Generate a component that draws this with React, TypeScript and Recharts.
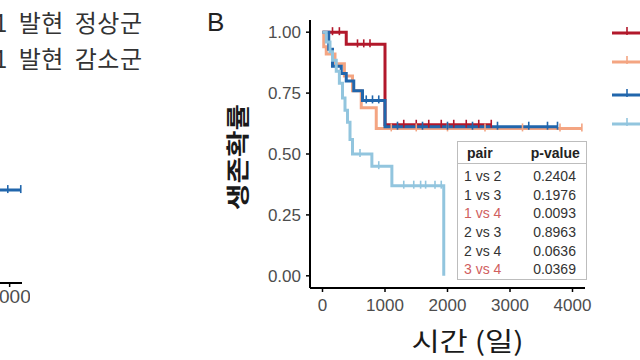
import React from 'react';
import { LineChart, Line, XAxis, YAxis, Legend, Label } from 'recharts';

// Kaplan-Meier steps per group: event times (days), survival after the event, censor times
const g1Time = [0, 380, 1000];
const g1Surv = [1, 0.95, 0.62];
const g1Censor = [160, 270, 560, 660, 760, 1300, 1500, 1700, 1900, 2100, 2300, 2500, 2700];

const g2Time = [0, 20, 60, 200, 350, 480, 620, 860];
const g2Surv = [1, 0.94, 0.91, 0.87, 0.82, 0.76, 0.69, 0.605];
const g2Censor = [1100, 1500, 2000, 2600, 3200, 3800, 4150];

const g3Time = [0, 100, 160, 300, 380, 500, 640, 1000];
const g3Surv = [1, 0.93, 0.86, 0.83, 0.8, 0.76, 0.72, 0.612];
const g3Censor = [700, 800, 900, 1200, 1600, 2000, 2400, 2800, 3300, 3600, 3760];

const g4Time = [0, 60, 120, 160, 220, 270, 320, 360, 400, 440, 480, 790, 1110, 1940];
const g4Surv = [1, 0.96, 0.92, 0.885, 0.84, 0.79, 0.73, 0.68, 0.63, 0.56, 0.5, 0.45, 0.37, 0];
const g4Censor = [600, 900, 1300, 1460, 1570, 1650, 1800, 1900];

// panel A (only its right edge is in frame)
const aTime = [0, 1500, 2600];
const aSurv = [1, 0.6, 0.33];
const aCensor = [3970, 4180];
const aLegend = ['1 발현 정상군', '1 발현 감소군'];

const groupColors = ['#b2182b', '#f4a582', '#2166ac', '#92c5de'];
const xTicks = [0, 1000, 2000, 3000, 4000];
const yTicks = [0, 0.25, 0.5, 0.75, 1];

const pairs = ['1 vs 2', '1 vs 3', '1 vs 4', '2 vs 3', '2 vs 4', '3 vs 4'];
const pValues = ['0.2404', '0.1976', '0.0093', '0.8963', '0.0636', '0.0369'];

type Pt = { time: number; surv: number; censor: boolean };

function km(times: number[], surv: number[], censor: number[]): Pt[] {
  const pts: Pt[] = times.map((t, i) => ({ time: t, surv: surv[i], censor: false }));
  censor.forEach((c) => {
    let s = surv[0];
    times.forEach((t, i) => {
      if (t <= c) s = surv[i];
    });
    pts.push({ time: c, surv: s, censor: true });
  });
  return pts.sort((a, b) => a.time - b.time);
}

const series = [
  km(g1Time, g1Surv, g1Censor),
  km(g2Time, g2Surv, g2Censor),
  km(g3Time, g3Surv, g3Censor),
  km(g4Time, g4Surv, g4Censor),
];
const seriesA = km(aTime, aSurv, aCensor);

const censorDot = (color: string) => (p: any) => {
  if (!p.payload || !p.payload.censor) return <g key={p.key} />;
  return <line key={p.key} x1={p.cx} x2={p.cx} y1={p.cy - 5} y2={p.cy + 3} stroke={color} strokeWidth={1.6} />;
};

const tickStyle = { fontSize: 17, fill: '#4d4d4d', fontFamily: 'Liberation Sans, Arial, sans-serif' };
const axisLine = { stroke: '#000', strokeWidth: 2 };

function KmLegend() {
  return (
    <svg width={40} height={110}>
      {groupColors.map((c, i) => {
        const y = [8, 37, 70, 99][i];
        return (
          <g key={c}>
            <line x1={0} x2={40} y1={y} y2={y} stroke={c} strokeWidth={3} />
            <line x1={15} x2={15} y1={y - 6} y2={y + 2} stroke={c} strokeWidth={1.6} />
          </g>
        );
      })}
    </svg>
  );
}

export default function App() {
  return (
    <div style={{ position: 'absolute', left: 0, top: 0, width: 640, height: 360, overflow: 'hidden', background: '#fff', fontFamily: 'Liberation Sans, Arial, sans-serif' }}>
      {/* panel A, clipped */}
      <div style={{ position: 'absolute', left: -300, top: 0 }}>
        <LineChart width={330} height={340} margin={{ top: 14, right: 8, left: 50, bottom: 17 }}>
          <XAxis type="number" dataKey="time" domain={[-200, 4200]} ticks={xTicks} allowDataOverflow
            tick={{ ...tickStyle, fontSize: 19 }} axisLine={axisLine} tickLine={{ stroke: '#000', strokeWidth: 1.5 }} tickSize={4} tickMargin={3} height={40} />
          <YAxis type="number" domain={[-0.05, 1.05]} hide />
          <Line data={seriesA} type="stepAfter" dataKey="surv" stroke={groupColors[2]} strokeWidth={3}
            dot={censorDot(groupColors[2])} activeDot={false} isAnimationActive={false} />
        </LineChart>
      </div>
      {aLegend.map((t, i) => (
        <div key={t} style={{ position: 'absolute', left: -6, top: [7, 43][i], fontSize: 24, lineHeight: '30px', color: '#333', fontFamily: 'Noto Sans CJK KR', whiteSpace: 'nowrap', wordSpacing: 5, letterSpacing: 0.5 }}>
          {t}
        </div>
      ))}

      {/* panel B */}
      <div style={{ position: 'absolute', left: 207, top: 7, fontSize: 26, color: '#222' }}>B</div>
      <div style={{ position: 'absolute', left: 160, top: 0 }}>
        <LineChart width={480} height={360} margin={{ top: 20, right: 55, left: 4, bottom: 11 }}>
          <XAxis type="number" dataKey="time" domain={[-200, 4200]} ticks={xTicks} allowDataOverflow
            tick={tickStyle} axisLine={axisLine} tickLine={{ stroke: '#000', strokeWidth: 1.5 }} tickSize={4} tickMargin={7} height={61}>
            <Label content={(p: any) => {
              const vb = p.viewBox;
              const cx = vb.x + vb.width / 2 + 20;
              const cy = vb.y + 52;
              return (
                <text transform={`translate(${cx} ${cy}) scale(1.18 1)`} textAnchor="middle" dominantBaseline="central"
                  fontSize={26} fill="#1a1a1a" fontFamily="Noto Sans CJK KR">시간 (일)</text>
              );
            }} />
          </XAxis>
          <YAxis type="number" domain={[-0.05, 1.05]} ticks={yTicks} allowDataOverflow width={146}
            tickFormatter={(v: number) => v.toFixed(2)} tick={tickStyle} axisLine={axisLine}
            tickLine={{ stroke: '#000', strokeWidth: 1.5 }} tickSize={4} tickMargin={5}>
            <Label content={(p: any) => {
              const vb = p.viewBox;
              const cx = vb.x + vb.width / 2 - 1;
              const cy = vb.y + vb.height / 2 + 3;
              return (
                <text transform={`translate(${cx} ${cy}) rotate(-90) scale(1.2 0.95)`} textAnchor="middle" dominantBaseline="central"
                  fontSize={24} fontWeight="bold" fill="#1a1a1a" fontFamily="Noto Sans CJK KR">생존확률</text>
              );
            }} />
          </YAxis>
          <Legend layout="horizontal" align="center" verticalAlign="middle" content={() => <KmLegend />}
            wrapperStyle={{ left: 452, top: 25, width: 40, height: 110, right: 'auto', bottom: 'auto' }} />
          {series.map((d, i) => (
            <Line key={i} data={d} type="stepAfter" dataKey="surv" name={String(i + 1)} stroke={groupColors[i]}
              strokeWidth={3} dot={censorDot(groupColors[i])} activeDot={false} isAnimationActive={false} />
          ))}
        </LineChart>
      </div>

      {/* log-rank p-value table */}
      <div style={{ position: 'absolute', left: 457, top: 141, width: 128, height: 137, border: '1px solid #bdbdbd', background: '#fff', fontSize: 14, color: '#333' }}>
        <div style={{ display: 'flex', height: 21, alignItems: 'center', borderBottom: '1px solid #bdbdbd', fontWeight: 'bold', color: '#222' }}>
          <span style={{ width: 62, paddingLeft: 9 }}>pair</span>
          <span style={{ width: 66, textAlign: 'center' }}>p-value</span>
        </div>
        {pairs.map((p, i) => (
          <div key={p} style={{ display: 'flex', height: 18.6, alignItems: 'center', marginTop: i === 0 ? 3 : 0 }}>
            <span style={{ width: 62, paddingLeft: 6, color: p === '1 vs 4' || p === '3 vs 4' ? '#d0605e' : '#333' }}>{p}</span>
            <span style={{ width: 66, textAlign: 'center' }}>{pValues[i]}</span>
          </div>
        ))}
      </div>
    </div>
  );
}
